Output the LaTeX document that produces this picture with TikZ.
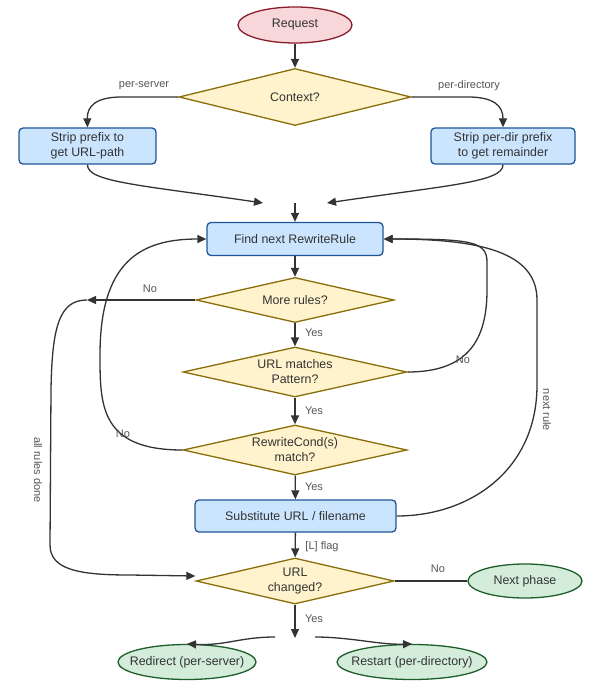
\documentclass[tikz,border=0pt]{standalone}
\usepackage{fontspec}
\setmainfont{Liberation Sans}
\usetikzlibrary{shapes.geometric,arrows.meta}
\definecolor{boxf}{HTML}{CCE5FF}
\definecolor{boxd}{HTML}{1F5596}
\definecolor{diaf}{HTML}{FFF3CD}
\definecolor{diad}{HTML}{8A6D0B}
\definecolor{redf}{HTML}{F8D7DA}
\definecolor{redd}{HTML}{8B1C2C}
\definecolor{grnf}{HTML}{D4EDDA}
\definecolor{grnd}{HTML}{1E5E2A}
\definecolor{txt}{HTML}{333333}
\definecolor{lnc}{HTML}{333333}
\definecolor{lblc}{HTML}{555555}
\begin{document}
\begin{tikzpicture}[x=1pt,y=-1pt,
  nodetext/.style={text=txt, font=\fontsize{12.4}{15}\selectfont, align=center, inner sep=0pt},
  box/.style={nodetext, rectangle, rounded corners=4pt, draw=boxd, fill=boxf, line width=1.3pt},
  dia/.style={nodetext, diamond, shape aspect=4.5, draw=diad, fill=diaf, line width=1.3pt},
  startnode/.style={nodetext, ellipse, inner xsep=-9pt, draw=redd, fill=redf, line width=1.3pt},
  endnode/.style={nodetext, ellipse, inner xsep=-9pt, draw=grnd, fill=grnf, line width=1.3pt},
  arr/.style={draw=lnc, line width=1.3pt, -{Triangle[length=9pt,width=8pt]}},
  plain/.style={draw=lnc, line width=1.3pt},
  lbl/.style={font=\fontsize{11}{13}\selectfont, text=lblc, inner sep=0pt}]
\useasboundingbox (0,0) rectangle (590,700);

% nodes
\node[startnode, minimum width=114pt, minimum height=36pt] (req) at (295,25) {Request};
\node[dia, minimum width=232pt, minimum height=57pt] (ctx) at (295,97) {Context?};
\node[box, minimum width=137pt, minimum height=36pt] (s1) at (87.5,146) {Strip prefix to\\get URL-path};
\node[box, minimum width=144pt, minimum height=36pt] (s2) at (503,146) {Strip per-dir prefix\\to get remainder};
\coordinate (j1) at (295,203);
\coordinate (j1l) at (263,203);
\coordinate (j1r) at (327,203);
\node[box, minimum width=176pt, minimum height=33pt] (find) at (295,239) {Find next RewriteRule};
\node[dia, minimum width=198pt, minimum height=45pt] (more) at (295,300) {More rules?};
\coordinate (jn) at (87,300);
\node[dia, minimum width=224pt, minimum height=50pt] (match) at (295,372) {URL matches\\Pattern?};
\node[dia, minimum width=224pt, minimum height=50pt] (cond) at (295,450) {RewriteCond(s)\\match?};
\node[box, minimum width=201pt, minimum height=32pt] (subst) at (295.5,516) {Substitute URL / filename};
\node[dia, minimum width=198pt, minimum height=46pt] (changed) at (295,581) {URL\\changed?};
\node[endnode, minimum width=114pt, minimum height=34pt] (next) at (525,581) {Next phase};
\coordinate (jb) at (295,638);
\coordinate (jbl) at (275,637);
\coordinate (jbr) at (315,637);
\node[endnode, minimum width=138pt, minimum height=35pt] (redir) at (187,662) {Redirect (per-server)};
\node[endnode, minimum width=150pt, minimum height=35pt] (restart) at (412,662) {Restart (per-directory)};

% connectors
\draw[arr] (req) -- (ctx);
\draw[arr] (ctx.west) -- (122,97) .. controls (96,97) and (87,106) .. (s1.north);
\draw[arr] (ctx.east) -- (468,97) .. controls (494,97) and (503,106) .. (s2.north);
\draw[arr] (s1.south) .. controls (87,182) and (140,185) .. (j1l);
\draw[arr] (s2.south) .. controls (503,182) and (450,185) .. (j1r);
\draw[arr] (j1) -- (find.north);
\draw[arr] (find) -- (more);
\draw[arr] (more) -- (match);
\draw[arr] (match) -- (cond);
\draw[arr] (cond) -- (subst);
\draw[arr] (subst) -- (changed);
\draw[arr] (more.west) -- (jn);
\draw[arr] (jn) .. controls (60,300) and (52,325) .. (51,390) -- (50,545) .. controls (50,570) and (80,575) .. (130,575) -- ([yshift=5pt]changed.west);
\draw[arr] (match.east) .. controls (468,372) and (487,340) .. (487,290) -- (487,262) .. controls (487,241) and (470,239) .. (find.east);
\draw[arr] (subst.east) .. controls (470,516) and (537,470) .. (537,385) -- (537,300) .. controls (537,252) and (480,239) .. (find.east);
\draw[arr] (cond.west) .. controls (100,450) and (100,405) .. (100,355) .. controls (100,262) and (140,239) .. (find.west);
\draw[plain] (changed.east) -- (next.west);
\draw[arr] (changed.south) -- (jb);
\draw[arr] (jbl) .. controls (240,637) and (225,646) .. (redir.north);
\draw[arr] (jbr) .. controls (350,637) and (380,645) .. (restart.north);

% labels
\node[lbl] (l1) at (144,86) {per-server};
\node[lbl] (l2) at (469,86) {per-directory};
\node[lbl] (l3) at (150,289) {No};
\node[lbl] (l4) at (314,333) {Yes};
\node[lbl] (l5) at (463,360) {No};
\node[lbl] (l6) at (314,411) {Yes};
\node[lbl] (l7) at (123,434) {No};
\node[lbl] (l8) at (314,487) {Yes};
\node[lbl] (l9) at (322,547) {[L] flag};
\node[lbl] (l10) at (438,569) {No};
\node[lbl] (l11) at (314,619) {Yes};
\node[lbl, rotate=-90] (l12) at (38,470) {all rules done};
\node[lbl, rotate=-90] (l13) at (547,410) {next rule};
\end{tikzpicture}
\end{document}
